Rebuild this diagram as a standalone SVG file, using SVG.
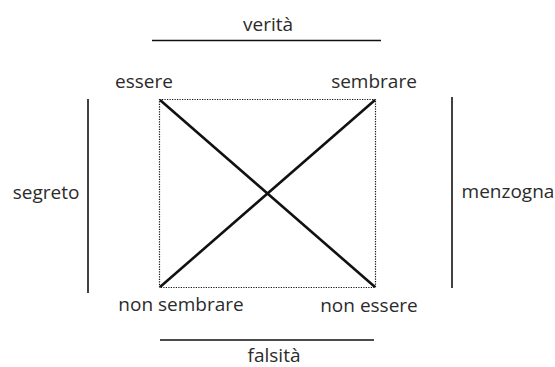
<svg xmlns="http://www.w3.org/2000/svg" width="555" height="367" viewBox="0 0 555 367">
<style>
text{font-family:"Open Sans","Liberation Sans",sans-serif;font-size:19px;fill:#2b2b2b}
.bar{stroke:#111;stroke-width:1.6;fill:none}
.diag{stroke:#111;stroke-width:2.6;fill:none}
.dot{stroke:#111;stroke-width:1.2;stroke-dasharray:1.2 1.3;fill:none}
</style>
<rect width="555" height="367" fill="#fff"/>
<g id="connectors">
<rect class="dot" x="159.5" y="99.5" width="216" height="188"/>
<line class="diag" x1="160" y1="100" x2="375" y2="287"/>
<line class="diag" x1="375" y1="100" x2="160" y2="287"/>
<line class="bar" x1="152" y1="40.5" x2="381" y2="40.5"/>
<line class="bar" x1="160" y1="340" x2="374" y2="340"/>
<line class="bar" x1="88" y1="99" x2="88" y2="293"/>
<line class="bar" x1="452" y1="97" x2="452" y2="288"/>
</g>
<g id="verita"><text x="268" y="31" text-anchor="middle">verità</text></g>
<g id="falsita"><text x="274" y="362" text-anchor="middle">falsità</text></g>
<g id="segreto"><text x="46" y="199" text-anchor="middle">segreto</text></g>
<g id="menzogna"><text x="508" y="198" text-anchor="middle">menzogna</text></g>
<g id="essere"><text x="144" y="88" text-anchor="middle">essere</text></g>
<g id="sembrare"><text x="374" y="88" text-anchor="middle">sembrare</text></g>
<g id="non-sembrare"><text x="181" y="311" text-anchor="middle">non sembrare</text></g>
<g id="non-essere"><text x="369" y="312" text-anchor="middle">non essere</text></g>
</svg>
